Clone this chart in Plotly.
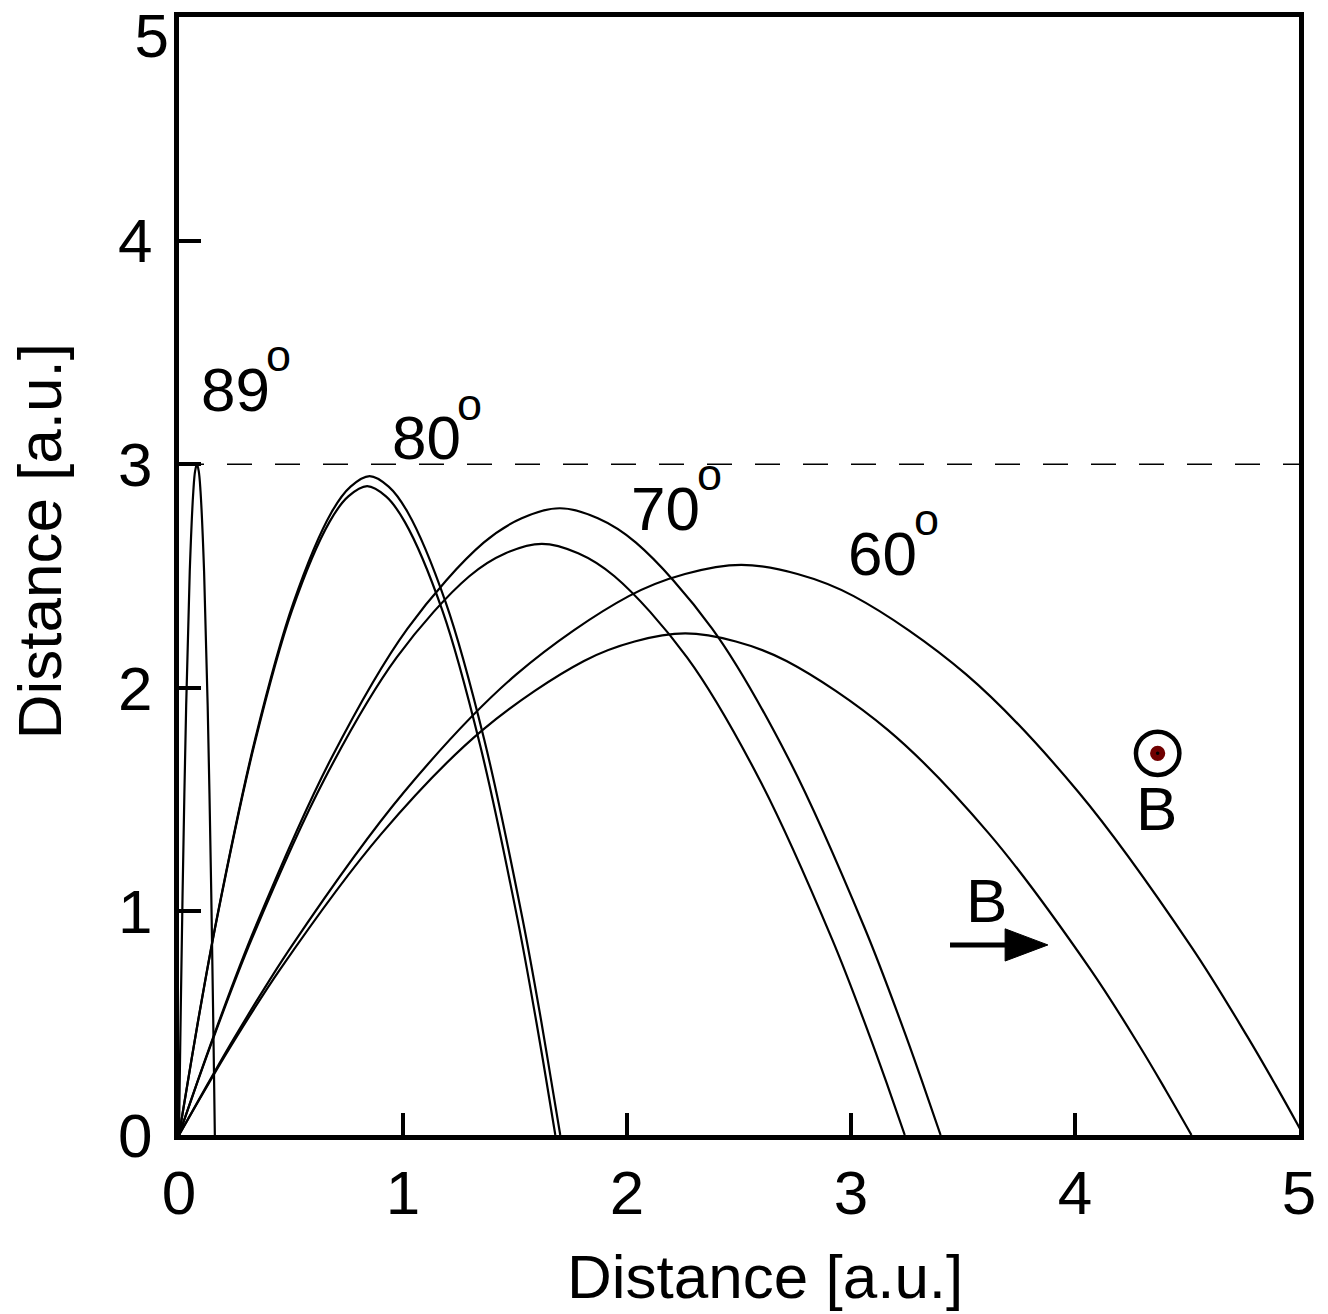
import plotly.graph_objects as go

# ---- data (Distance [a.u.]) ----
x89 = [0, 0.004, 0.008, 0.016, 0.032, 0.048, 0.064, 0.072, 0.08, 0.088, 0.096, 0.112, 0.128, 0.144, 0.152, 0.156, 0.16]
y89 = [0, 0.293, 0.57, 1.08, 1.92, 2.52, 2.88, 2.97, 3.0, 2.97, 2.88, 2.52, 1.92, 1.08, 0.57, 0.293, 0]

x80a = [0, 0.043, 0.085, 0.170, 0.340, 0.511, 0.681, 0.766, 0.851, 0.936, 1.021, 1.191, 1.362, 1.532, 1.617, 1.659, 1.702]
y80a = [0, 0.259, 0.510, 0.975, 1.771, 2.381, 2.785, 2.900, 2.947, 2.900, 2.785, 2.381, 1.771, 0.975, 0.510, 0.259, 0]

x80b = [0, 0.042, 0.084, 0.168, 0.336, 0.504, 0.672, 0.756, 0.84, 0.924, 1.008, 1.176, 1.344, 1.512, 1.596, 1.638, 1.68]
y80b = [0, 0.255, 0.502, 0.961, 1.744, 2.345, 2.742, 2.856, 2.902, 2.856, 2.742, 2.345, 1.744, 0.961, 0.502, 0.255, 0]

x70a = [0, 0.085, 0.17, 0.34, 0.68, 1.02, 1.36, 1.53, 1.70, 1.87, 2.04, 2.38, 2.72, 3.06, 3.23, 3.315, 3.40]
y70a = [0, 0.247, 0.485, 0.928, 1.685, 2.265, 2.649, 2.758, 2.803, 2.758, 2.649, 2.265, 1.685, 0.928, 0.485, 0.247, 0]

x70b = [0, 0.081, 0.162, 0.324, 0.648, 0.972, 1.296, 1.458, 1.62, 1.782, 1.944, 2.268, 2.592, 2.916, 3.078, 3.159, 3.24]
y70b = [0, 0.233, 0.457, 0.875, 1.589, 2.136, 2.499, 2.602, 2.644, 2.602, 2.499, 2.136, 1.589, 0.875, 0.457, 0.233, 0]

x60a = [0, 0.126, 0.251, 0.502, 1.004, 1.506, 2.008, 2.259, 2.51, 2.761, 3.012, 3.514, 4.016, 4.518, 4.769, 4.895, 5.02]
y60a = [0, 0.224, 0.441, 0.844, 1.533, 2.060, 2.410, 2.509, 2.55, 2.509, 2.410, 2.060, 1.533, 0.844, 0.441, 0.224, 0]

x60b = [0, 0.113, 0.226, 0.452, 0.904, 1.356, 1.808, 2.034, 2.26, 2.486, 2.712, 3.164, 3.616, 4.068, 4.294, 4.407, 4.52]
y60b = [0, 0.197, 0.388, 0.742, 1.348, 1.812, 2.120, 2.207, 2.243, 2.207, 2.120, 1.812, 1.348, 0.742, 0.388, 0.197, 0]

max_height = 3.0
tick_vals = [0, 1, 2, 3, 4, 5]
x_tick_text = ["0", "1", "2", "3", "4", "5"]
y_tick_text = ["0", "1", "2", "3", "4", ""]
top_tick_val = [5]
top_tick_text = ["5"]

angle_labels = ["89", "80", "70", "60"]
angle_pos_x = [0.251, 1.104, 2.174, 3.141]
angle_pos_y = [3.335, 3.119, 2.804, 2.601]

FONT = "Liberation Sans, Arial, sans-serif"

fig = go.Figure()
curves = [(x89, y89), (x80a, y80a), (x80b, y80b), (x70a, y70a), (x70b, y70b), (x60a, y60a), (x60b, y60b)]
for cx, cy in curves:
    fig.add_trace(go.Scatter(x=cx, y=cy, mode="lines",
                             line=dict(color="black", width=2.2, shape="spline", smoothing=1.0),
                             showlegend=False, hoverinfo="skip"))

# dashed max height line
fig.add_shape(type="line", xref="x", yref="y", x0=0, x1=5, y0=max_height, y1=max_height,
              line=dict(color="black", width=1.6, dash="25px,23px"), layer="below")

# angle labels
for lab, ax_, ay_ in zip(angle_labels, angle_pos_x, angle_pos_y):
    fig.add_annotation(x=ax_, y=ay_, xref="x", yref="y", text=lab, showarrow=False,
                       font=dict(family=FONT, size=62, color="black"),
                       xanchor="center", yanchor="middle")
    fig.add_annotation(x=ax_ + 0.195, y=ay_ + 0.150, xref="x", yref="y", text="o", showarrow=False,
                       font=dict(family=FONT, size=45, color="black"),
                       xanchor="center", yanchor="middle")

# B out of page symbol
fig.add_shape(type="circle", xref="x", yref="y", x0=4.369 - 0.097, x1=4.369 + 0.097,
              y0=1.707 - 0.097, y1=1.707 + 0.097, line=dict(color="black", width=4.5))
fig.add_shape(type="circle", xref="x", yref="y", x0=4.369 - 0.034, x1=4.369 + 0.034,
              y0=1.707 - 0.034, y1=1.707 + 0.034, line=dict(width=0), fillcolor="#700000")
fig.add_shape(type="circle", xref="x", yref="y", x0=4.369 - 0.008, x1=4.369 + 0.008,
              y0=1.707 - 0.008, y1=1.707 + 0.008, line=dict(width=0), fillcolor="black")
fig.add_annotation(x=4.366, y=1.462, xref="x", yref="y", text="B", showarrow=False,
                   font=dict(family=FONT, size=62, color="black"), xanchor="center", yanchor="middle")

# B arrow
fig.add_shape(type="line", xref="x", yref="y", x0=3.442, x1=3.70, y0=0.850, y1=0.850,
              line=dict(color="black", width=5))
fig.add_shape(type="path", xref="x", yref="y",
              path="M 3.688,0.922 L 3.879,0.850 L 3.688,0.778 Z",
              fillcolor="black", line=dict(color="black", width=1))
fig.add_annotation(x=3.603, y=1.049, xref="x", yref="y", text="B", showarrow=False,
                   font=dict(family=FONT, size=62, color="black"), xanchor="center", yanchor="middle")

# axis titles
fig.add_annotation(x=0.523, y=-0.127, xref="paper", yref="paper", text="Distance [a.u.]",
                   showarrow=False, font=dict(family=FONT, size=62, color="black"),
                   xanchor="center", yanchor="middle")
fig.add_annotation(x=-0.125, y=0.531, xref="paper", yref="paper", text="Distance [a.u.]",
                   showarrow=False, textangle=-90, font=dict(family=FONT, size=62, color="black"),
                   xanchor="center", yanchor="middle")

axis_common = dict(range=[0, 5], tickvals=tick_vals, ticks="inside", automargin=False,
                   ticklen=22, tickwidth=4, tickcolor="black", showline=True, linewidth=5,
                   linecolor="black", mirror=True, showgrid=False, zeroline=False,
                   tickfont=dict(family=FONT, size=62, color="black"))

fig.update_layout(width=1328, height=1314, margin=dict(l=179, r=29, t=17, b=179, autoexpand=False),
                  paper_bgcolor="white", plot_bgcolor="white",
                  xaxis=dict(axis_common, ticktext=x_tick_text),
                  yaxis=dict(axis_common, ticktext=y_tick_text, ticklabelstandoff=9),
                  yaxis2=dict(overlaying="y", side="left", range=[0, 5], tickvals=top_tick_val,
                              ticktext=top_tick_text, ticks="", showline=False, showgrid=False,
                              zeroline=False, ticklabelshift=18, ticklabelstandoff=9,
                              ticklabeloverflow="allow", automargin=False,
                              tickfont=dict(family=FONT, size=62, color="black")))

# invisible trace to activate the overlay axis carrying the top label
fig.add_trace(go.Scatter(x=[None], y=[None], yaxis="y2", showlegend=False, hoverinfo="skip"))

fig.write_html("out.html")
